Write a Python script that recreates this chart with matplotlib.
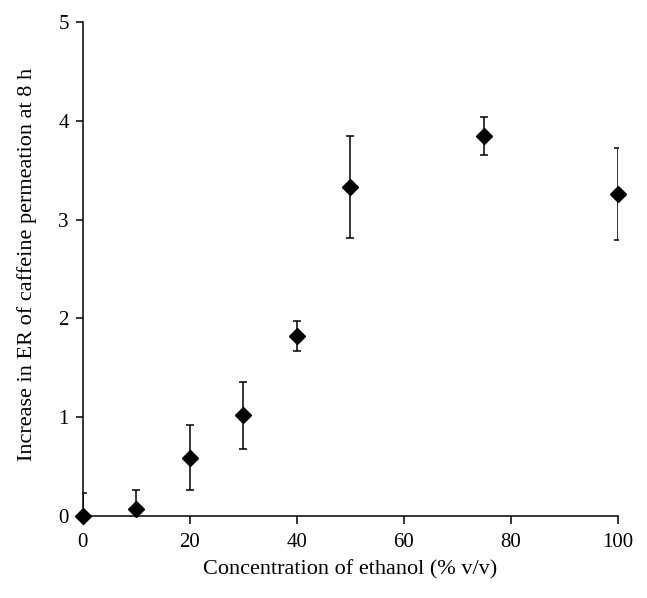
import matplotlib
matplotlib.use("Agg")
import matplotlib.pyplot as plt
from matplotlib.transforms import Bbox

ethanol = [0, 10, 20, 30, 40, 50, 75, 100]
increase_er = [0.0, 0.07, 0.59, 1.02, 1.82, 3.33, 3.85, 3.26]
err = [0.23, 0.19, 0.33, 0.34, 0.15, 0.52, 0.19, 0.47]
xticks = [0, 20, 40, 60, 80, 100]
yticks = [0, 1, 2, 3, 4, 5]

plt.rcParams['font.family'] = ['Liberation Serif', 'DejaVu Serif']
fig = plt.figure(figsize=(6.47, 5.98), dpi=100)
ax = fig.add_axes([0.128, 0.137, 0.827, 0.826])

ax.errorbar(ethanol, increase_er, yerr=err, fmt='none', ecolor='black',
            elinewidth=1.1, capsize=2.8, capthick=1.1)
ax.plot(ethanol, increase_er, linestyle='none', marker='D', markersize=8.4,
        color='black', clip_on=False, zorder=5)

ax.set_xlim(0, 100)
ax.set_ylim(0, 5)
ax.set_xticks(xticks)
ax.set_yticks(yticks)
for s in ['top', 'right']:
    ax.spines[s].set_visible(False)
for s in ['left', 'bottom']:
    ax.spines[s].set_linewidth(1.1)
ax.tick_params(axis='x', direction='out', length=6, width=1.1, labelsize=15, pad=6)
ax.tick_params(axis='y', direction='out', length=5, width=1.1, labelsize=15, pad=5)
ax.set_xlabel('Concentration of ethanol (% v/v)', fontsize=16)
ax.set_ylabel('Increase in ER of caffeine permeation at 8 h', fontsize=16)
ax.xaxis.set_label_coords(0.5, -0.09)
ax.yaxis.set_label_coords(-0.085, 0.51)

# the last x tick label is cut at the right edge in the original
fig.canvas.draw()
for tick in ax.xaxis.get_major_ticks():
    if tick.label1.get_text() == '100':
        tick.label1.set_clip_box(Bbox.from_extents(0, 0, 633, 598))
        tick.label1.set_clip_on(True)

fig.savefig('out.png', dpi=100)
